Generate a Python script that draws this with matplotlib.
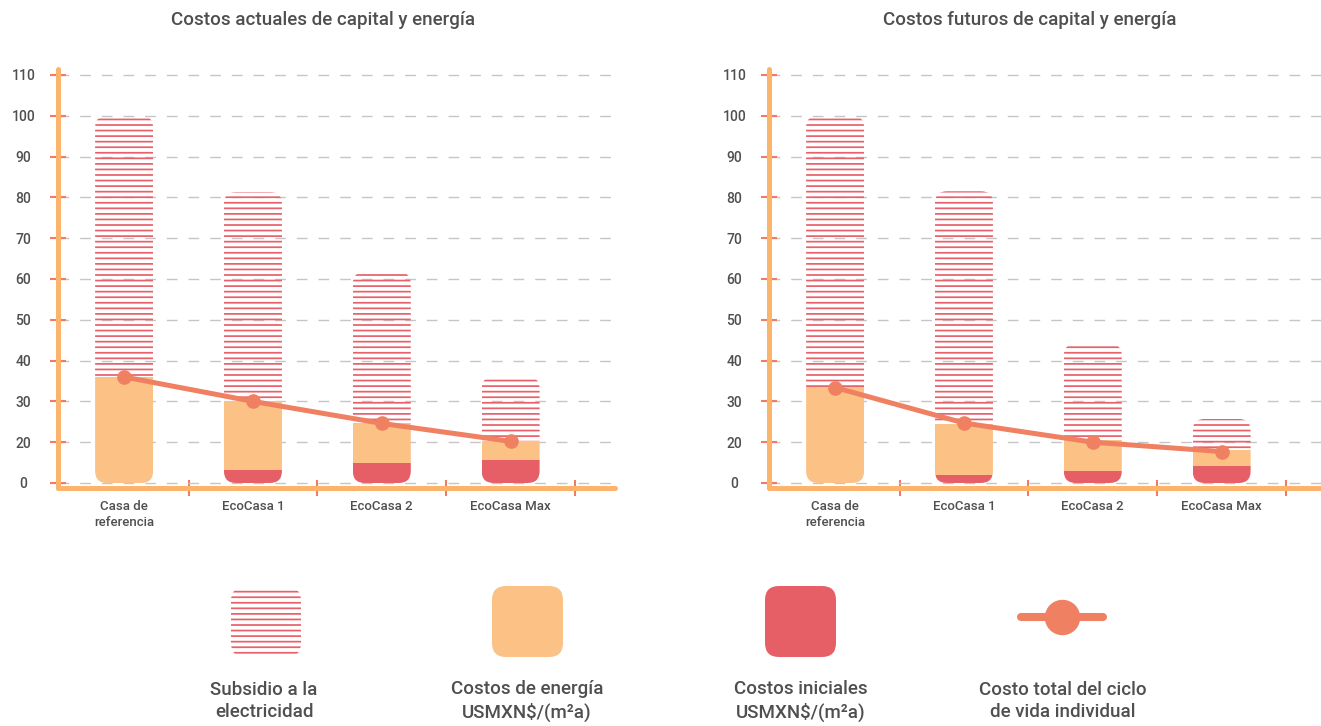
import matplotlib
matplotlib.use("Agg")
import matplotlib.pyplot as plt
from matplotlib.patches import FancyBboxPatch
import numpy as np

# --- data ---
categorias = ["Casa de\nreferencia", "EcoCasa 1", "EcoCasa 2", "EcoCasa Max"]
y_ticks = [10, 20, 30, 40, 50, 60, 70, 80, 90, 100, 110]
y_tick_labels = ["0", "20", "30", "40", "50", "60", "70", "80", "90", "100", "110"]
base = 10  # the bottom grid line, labelled "0" in the original

# costos actuales
act_iniciales = [0.0, 3.3, 5.0, 5.7]
act_energia = [26.0, 16.7, 9.8, 4.6]
act_subsidio = [64.0, 51.3, 36.9, 15.7]
act_total = [36.0, 30.0, 24.6, 20.2]

# costos futuros
fut_iniciales = [0.0, 2.0, 2.9, 4.1]
fut_energia = [23.5, 12.5, 7.7, 3.9]
fut_subsidio = [66.5, 57.0, 23.5, 7.7]
fut_total = [33.4, 24.7, 20.0, 17.7]

titulos = ["Costos actuales de capital y energía", "Costos futuros de capital y energía"]
leyenda = ["Subsidio a la\nelectricidad", "Costos de energía\nUSMXN\\$/(m²a)",
           "Costos iniciales\nUSMXN\\$/(m²a)", "Costo total del ciclo\nde vida individual"]

# colours
RED = "#e65f67"
ORANGE = "#fbc185"
STRIPE = "#e8606a"
LINE = "#f08062"
SPINE = "#fcb46c"
TICK = "#f07d62"
TEXT = "#4f4f4f"

W, H = 1321, 726
plt.rcParams["font.family"] = ["Roboto", "DejaVu Sans"]
plt.rcParams["font.weight"] = "medium"
plt.rcParams["hatch.linewidth"] = 1.25

fig = plt.figure(figsize=(W / 100, H / 100), dpi=100)

XLIM = (-0.513, 3.81)
YLIM = (8.77, 111.47)
BW = 0.45


def px_axes(left, top, right, bottom):
    return fig.add_axes([left / W, 1 - bottom / H, (right - left) / W, (bottom - top) / H])


def draw_panel(ax, iniciales, energia, subsidio, total):
    x = np.arange(len(categorias))
    ini = np.array(iniciales)
    ene = np.array(energia)
    sub = np.array(subsidio)
    ax.set_xlim(*XLIM)
    ax.set_ylim(*YLIM)
    ax.set_axisbelow(True)

    # rounded bar outline used as clip path
    pos = ax.get_position()
    px_x = pos.width * W / (XLIM[1] - XLIM[0])
    px_y = pos.height * H / (YLIM[1] - YLIM[0])
    r = 12 / px_x
    shapes = []
    for i in x:
        sh = FancyBboxPatch((i - BW / 2, base), BW, ini[i] + ene[i] + sub[i],
                            boxstyle=f"round,pad=0,rounding_size={r}",
                            mutation_aspect=px_x / px_y,
                            fc="none", ec="none", transform=ax.transData)
        ax.add_patch(sh)
        shapes.append(sh)

    b1 = ax.bar(x, ini, BW, bottom=base, color=RED, lw=0)
    b2 = ax.bar(x, ene, BW, bottom=base + ini, color=ORANGE, lw=0)
    b3 = ax.bar(x, sub, BW, bottom=base + ini + ene, facecolor="none",
                edgecolor=STRIPE, hatch="---", lw=0)
    for bars in (b1, b2, b3):
        for p, sh in zip(bars.patches, shapes):
            p.set_clip_path(sh)

    ax.plot(x, total, color=LINE, lw=3.6, marker="o", ms=9.5,
            solid_capstyle="round", zorder=5)

    # axes styling
    for s in ("top", "right"):
        ax.spines[s].set_visible(False)
    for s in ("left", "bottom"):
        ax.spines[s].set_color(SPINE)
        ax.spines[s].set_linewidth(3.6)
        ax.spines[s].set_capstyle("round")

    ax.set_yticks(y_ticks)
    ax.set_yticklabels(y_tick_labels)
    ax.tick_params(axis="y", direction="inout", length=12, width=1.5, color=TICK,
                   labelcolor=TEXT, labelsize=10, pad=19)
    for lbl in ax.get_yticklabels():
        lbl.set_ha("center")
    ax.yaxis.grid(True, color="#c6c6c6", lw=1, linestyle=(0, (7.7, 7.9)))

    ax.set_xticks(x + 0.5)
    ax.set_xticklabels([])
    ax.set_xticks(x, minor=True)
    ax.set_xticklabels(categorias, minor=True)
    ax.tick_params(axis="x", which="major", direction="inout", length=12,
                   width=1.5, color=TICK)
    ax.tick_params(axis="x", which="minor", length=0, pad=9, labelsize=9.5,
                   labelcolor=TEXT)


ax1 = px_axes(58, 69, 615, 488)
draw_panel(ax1, act_iniciales, act_energia, act_subsidio, act_total)
ax2 = px_axes(769, 69, 1326, 488)
draw_panel(ax2, fut_iniciales, fut_energia, fut_subsidio, fut_total)

fig.text(323 / W, 1 - 20 / H, titulos[0], ha="center", va="center",
         fontsize=13.5, color=TEXT)
fig.text(1030 / W, 1 - 20 / H, titulos[1], ha="center", va="center",
         fontsize=13.5, color=TEXT)

# legend drawn in pixel space
leg = fig.add_axes([0, 0, 1, 1])
leg.set_xlim(0, W)
leg.set_ylim(H, 0)
leg.axis("off")
box = "round,pad=0,rounding_size=14"
leg.add_patch(FancyBboxPatch((231, 587), 70, 70, boxstyle=box, facecolor="none",
                             edgecolor=STRIPE, hatch="---", lw=0))
leg.add_patch(FancyBboxPatch((492, 586), 71, 71, boxstyle=box, color=ORANGE, lw=0))
leg.add_patch(FancyBboxPatch((765, 586), 71, 71, boxstyle=box, color=RED, lw=0))
leg.plot([1021, 1103], [617, 617], color=LINE, lw=5.8, solid_capstyle="round")
leg.plot([1062], [617], marker="o", ms=24.5, color=LINE)

for cx, txt in zip([264, 527, 801, 1063], leyenda):
    leg.text(cx, 701, txt, ha="center", va="center", fontsize=13.5,
             color=TEXT, linespacing=1.3)

fig.savefig("out.png", dpi=100)
